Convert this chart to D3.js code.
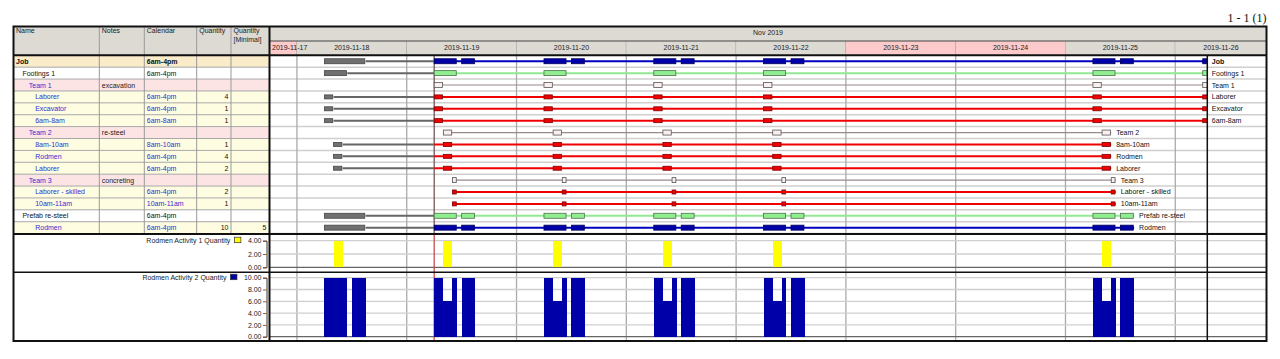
<!DOCTYPE html>
<html><head><meta charset="utf-8">
<script src="https://cdn.jsdelivr.net/npm/d3@7"></script>
<style>
body{margin:0;background:#fff;}
svg{display:block;font-family:"Liberation Sans",Arial,sans-serif;}
</style></head><body>
<svg id="c" width="1280" height="359"></svg>
<script>
// ---------------- data ----------------
const pageLabel = "1 - 1 (1)";
const monthLabel = "Nov 2019";
const days = ["2019-11-17","2019-11-18","2019-11-19","2019-11-20","2019-11-21","2019-11-22","2019-11-23","2019-11-24","2019-11-25","2019-11-26"];
const weekendDays = ["2019-11-17","2019-11-23","2019-11-24"];
const viewStart = ["2019-11-17", 18];
const viewEnd = ["2019-11-26", 7];
const nowMark = ["2019-11-19", 6];

const columnHeads = [["Name"],["Notes"],["Calendar"],["Quantity"],["Quantity","[Minimal]"]];

const rowNames = ["Job","Footings 1","Team 1","Laborer","Excavator","6am-8am","Team 2","8am-10am","Rodmen","Laborer","Team 3","Laborer - skilled","10am-11am","Prefab re-steel","Rodmen"];
const rowIndent = [0,1,2,3,3,3,2,3,3,3,2,3,3,1,3];
const rowNotes = ["","","excavation","","","","re-steel","","","","concreting","","","",""];
const rowCalendar = ["6am-4pm","6am-4pm","","6am-4pm","6am-4pm","6am-8am","","8am-10am","6am-4pm","6am-4pm","","6am-4pm","10am-11am","6am-4pm","6am-4pm"];
const rowQty = [null,null,null,4,1,1,null,1,4,2,null,2,1,null,10];
const rowQtyMin = [null,null,null,null,null,null,null,null,null,null,null,null,null,null,5];
const rowTableStyle = ["job","plain","team","res","res","res","team","res","res","res","team","res","res","plain","res"];
const rowBarStyle = ["blue","green","team","red","red","red","team","red","red","red","team","red","red","green","blue"];

const pastDay = "2019-11-18";
const workDays = ["2019-11-19","2019-11-20","2019-11-21","2019-11-22","2019-11-25","2019-11-26"];
const rowPastShift = [[6,15],[6,11],null,[6,8],[6,8],[6,8],null,[8,10],[8,10],[8,10],null,null,null,[6,15],[6,15]];
const rowShifts = [
  [[6,11],[12,15]], [[6,11]], [[6,8]], [[6,8]], [[6,8]], [[6,8]],
  [[8,10]], [[8,10]], [[8,10]], [[8,10]],
  [[10,11]], [[10,11]], [[10,11]],
  [[6,11],[12,15]], [[6,11],[12,15]]
];
const rowLastDay = ["2019-11-26","2019-11-26","2019-11-26","2019-11-26","2019-11-26","2019-11-26",
  "2019-11-25","2019-11-25","2019-11-25","2019-11-25","2019-11-25","2019-11-25","2019-11-25","2019-11-25","2019-11-25"];

const hist1Name = "Rodmen Activity 1 Quantity";
const hist1Days = ["2019-11-18","2019-11-19","2019-11-20","2019-11-21","2019-11-22","2019-11-25"];
const hist1Steps = [[8,10,4]];
const hist1Ticks = [0,2,4];

const hist2Name = "Rodmen Activity 2 Quantity";
const hist2PastSteps = [[6,11,10],[12,15,10]];
const hist2Days = ["2019-11-19","2019-11-20","2019-11-21","2019-11-22","2019-11-25"];
const hist2Steps = [[6,8,10],[8,10,6],[10,11,10],[12,15,10]];
const hist2Ticks = [0,2,4,6,8,10];

// ---------------- layout ----------------
const L = 13.5, TBR = 269.5, GR = 1207.3, R = 1266.5;
const TOP = 26.5, MONTH_B = 41, HEAD_B = 55.3, ROWS_B = 233.6;
const H1_T = 234, H1_B = 272.3, H2_B = 341;
const colX = [13.5, 99.3, 144.3, 196.7, 231, 269.5];
const FS = 7;
const BLUE_TXT = "#3030d2";

const svg = d3.select("#c");
const parseDay = d3.timeParse("%Y-%m-%d");
const at = (day, h) => new Date(parseDay(day).getTime() + h * 3600000);
const x = d3.scaleTime().domain([at(...viewStart), at(...viewEnd)]).range([TBR, GR]);
const yRow = d3.scaleBand().domain(d3.range(rowNames.length)).range([HEAD_B, ROWS_B]);
const rh = yRow.bandwidth();
const yc = i => yRow(i) + rh / 2;
const nowT = at(...nowMark);

const defs = svg.append("defs");
defs.append("clipPath").attr("id","gclip").append("rect").attr("x",TBR).attr("y",HEAD_B).attr("width",GR-TBR).attr("height",ROWS_B-HEAD_B);
defs.append("clipPath").attr("id","hclip").append("rect").attr("x",TBR).attr("y",H1_T).attr("width",GR-TBR).attr("height",H2_B-H1_T);
defs.append("clipPath").attr("id","headclip").append("rect").attr("x",TBR).attr("y",TOP).attr("width",R-TBR).attr("height",HEAD_B-TOP);

// page label
svg.append("text").attr("x",R).attr("y",21.5).attr("text-anchor","end")
  .style("font-family",'"Liberation Serif","Times New Roman",serif').style("font-size","12px").attr("fill","#111").text(pageLabel);

// ---------- table header ----------
const HEADBG = "#dcdad3";
svg.append("rect").attr("x",L).attr("y",TOP).attr("width",TBR-L).attr("height",HEAD_B-TOP).attr("fill",HEADBG);
columnHeads.forEach((lines,c)=>{
  const t = svg.append("text").attr("x",colX[c]+2.5).attr("y",33).style("font-size",FS+"px").attr("fill","#222");
  lines.forEach((s,k)=>t.append("tspan").attr("x",colX[c]+2.5).attr("dy",k?8.5:0).text(s));
});

// ---------- time header ----------
svg.append("rect").attr("x",TBR).attr("y",TOP).attr("width",R-TBR).attr("height",HEAD_B-TOP).attr("fill",HEADBG);
svg.append("text").attr("x",(TBR+R)/2).attr("y",35).attr("text-anchor","middle").style("font-size",FS+"px").attr("fill","#222").text(monthLabel);
const hg = svg.append("g").attr("clip-path","url(#headclip)");
days.forEach(d=>{
  const a = Math.max(x(at(d,0)), TBR), b = Math.min(x(at(d,24)), R);
  if (b <= a) return;
  hg.append("rect").attr("x",a).attr("y",MONTH_B).attr("width",b-a).attr("height",HEAD_B-MONTH_B)
    .attr("fill", weekendDays.includes(d) ? "#fccaca" : HEADBG);
  if (b < R) hg.append("line").attr("x1",b).attr("x2",b).attr("y1",MONTH_B).attr("y2",HEAD_B).attr("stroke","#999").attr("stroke-width",1);
  const t = svg.append("text").attr("x",(a+b)/2).attr("y",50.3).attr("text-anchor","middle").style("font-size",FS+"px").attr("fill","#222").text(d);
  const w = t.node().getComputedTextLength();
  if (w > b - a - 4) t.attr("text-anchor","start").attr("x", a + 2.5);
});

// ---------- table rows ----------
const tableBg = {job:"#faebc9", plain:"#ffffff", team:"#fde4e4", res:"#fefde1"};
rowNames.forEach((name,i)=>{
  const st = rowTableStyle[i];
  svg.append("rect").attr("x",L).attr("y",yRow(i)).attr("width",TBR-L).attr("height",rh).attr("fill",tableBg[st]);
  const base = yc(i) + 2.5;
  const nameColor = (st==="team"||st==="res") ? BLUE_TXT : "#111";
  const bold = st==="job" ? "bold" : "normal";
  svg.append("text").attr("x", L + 2.5 + rowIndent[i]*6.4).attr("y",base).style("font-size",FS+"px").style("font-weight",bold).attr("fill",nameColor).text(name);
  if (rowNotes[i]) svg.append("text").attr("x",colX[1]+2.5).attr("y",base).style("font-size",FS+"px").attr("fill","#222").text(rowNotes[i]);
  if (rowCalendar[i]) svg.append("text").attr("x",colX[2]+2.5).attr("y",base).style("font-size",FS+"px").style("font-weight",bold)
      .attr("fill", st==="res" ? BLUE_TXT : "#111").text(rowCalendar[i]);
  if (rowQty[i]!=null) svg.append("text").attr("x",colX[4]-2.5).attr("y",base).attr("text-anchor","end").style("font-size",FS+"px").attr("fill","#111").text(rowQty[i]);
  if (rowQtyMin[i]!=null) svg.append("text").attr("x",colX[5]-3).attr("y",base).attr("text-anchor","end").style("font-size",FS+"px").attr("fill","#111").text(rowQtyMin[i]);
});
// table grid
d3.range(rowNames.length+1).forEach(i=>{
  const y = HEAD_B + i*rh;
  svg.append("line").attr("x1",L).attr("x2",TBR).attr("y1",y).attr("y2",y).attr("stroke","#a8a8a8").attr("stroke-width",1);
});
colX.slice(1,5).forEach(cx=>{
  svg.append("line").attr("x1",cx).attr("x2",cx).attr("y1",TOP).attr("y2",ROWS_B).attr("stroke","#999").attr("stroke-width",1);
});

// ---------- gantt grid ----------
d3.range(rowNames.length+1).forEach(i=>{
  const y = HEAD_B + i*rh;
  svg.append("line").attr("x1",TBR).attr("x2",R).attr("y1",y).attr("y2",y).attr("stroke","#cfcfcf").attr("stroke-width",1.5);
});
days.slice(1).forEach(d=>{
  const xx = x(at(d,0));
  if (xx > TBR && xx < GR) svg.append("line").attr("x1",xx).attr("x2",xx).attr("y1",HEAD_B).attr("y2",H2_B).attr("stroke","#aaa").attr("stroke-width",1.3);
});

// ---------- histogram grids ----------
const y1 = d3.scaleLinear().domain([0,4]).range([267.3, 240.7]);
const y2 = d3.scaleLinear().domain([0,10]).range([336.7, 277.7]);
hist1Ticks.forEach(v=>svg.append("line").attr("x1",TBR).attr("x2",R).attr("y1",y1(v)).attr("y2",y1(v)).attr("stroke", v===0?"#666":"#cfcfcf").attr("stroke-width",1.3));
hist2Ticks.forEach(v=>svg.append("line").attr("x1",TBR).attr("x2",R).attr("y1",y2(v)).attr("y2",y2(v)).attr("stroke", v===0?"#666":"#cfcfcf").attr("stroke-width",1.3));

// now line
svg.append("line").attr("x1",x(nowT)).attr("x2",x(nowT)).attr("y1",HEAD_B).attr("y2",H1_T).attr("stroke","#6a4a4a").attr("stroke-width",1.2);
svg.append("line").attr("x1",x(nowT)).attr("x2",x(nowT)).attr("y1",H1_T).attr("y2",H2_B).attr("stroke","#c04040").attr("stroke-width",1.2);

// ---------- gantt bars ----------
const barStyle = {
  blue:{fill:"#0000a8",stroke:"#00005a",h:5,line:"#0000c0",lw:2},
  green:{fill:"#90ee90",stroke:"#4d704d",h:5,line:"#90e890",lw:2},
  red:{fill:"#f00000",stroke:"#7a0000",h:4,line:"#f00000",lw:2},
  team:{fill:"#fbeeee",stroke:"#555",h:5,line:"#9a8a8a",lw:1.2}
};
const past = {fill:"#707070",stroke:"#474747",line:"#666",lw:2};
const gg = svg.append("g").attr("clip-path","url(#gclip)");
const labels = svg.append("g");
rowNames.forEach((name,i)=>{
  const st = barStyle[rowBarStyle[i]];
  const cy = yc(i);
  const p = rowPastShift[i] ? {t0:at(pastDay,rowPastShift[i][0]), t1:at(pastDay,rowPastShift[i][1])} : null;
  const segs = [];
  workDays.filter(d=>d<=rowLastDay[i]).forEach(d=>rowShifts[i].forEach(s=>segs.push({t0:at(d,s[0]),t1:at(d,s[1])})));
  const lastT = segs[segs.length-1].t1;
  if (p) {
    gg.append("line").attr("x1",x(p.t1)).attr("x2",x(nowT)).attr("y1",cy).attr("y2",cy).attr("stroke",past.line).attr("stroke-width",past.lw);
  }
  const lineStart = p ? nowT : segs[0].t0;
  gg.append("line").attr("x1",x(lineStart)).attr("x2",x(lastT)).attr("y1",cy).attr("y2",cy).attr("stroke",st.line).attr("stroke-width",st.lw);
  if (p) {
    gg.append("rect").attr("x",x(p.t0)).attr("y",cy-st.h/2).attr("width",x(p.t1)-x(p.t0)-0.8).attr("height",st.h)
      .attr("fill",past.fill).attr("stroke",past.stroke).attr("stroke-width",0.8);
  }
  gg.selectAll(null).data(segs).join("rect")
    .attr("x",s=>x(s.t0)).attr("y",cy-st.h/2).attr("width",s=>Math.max(1.5,x(s.t1)-x(s.t0)-0.8)).attr("height",st.h)
    .attr("fill",st.fill).attr("stroke",st.stroke).attr("stroke-width",0.8);
  const bold = rowTableStyle[i]==="job" ? "bold" : "normal";
  if (x(lastT) < GR - 4) {
    labels.append("text").attr("x",x(lastT)+5).attr("y",cy+2.5).style("font-size",FS+"px").attr("fill","#111").text(name);
  } else {
    labels.append("text").attr("x",GR+4.5).attr("y",cy+2.5).style("font-size",FS+"px").style("font-weight",bold).attr("fill","#111").text(name);
  }
});

// ---------- histograms ----------
const hgp = svg.append("g").attr("clip-path","url(#hclip)");
const h1 = [];
hist1Days.forEach(d=>hist1Steps.forEach(s=>h1.push({t0:at(d,s[0]),t1:at(d,s[1]),v:s[2]})));
hgp.selectAll(null).data(h1).join("rect").attr("shape-rendering","crispEdges")
  .attr("x",s=>x(s.t0)).attr("width",s=>x(s.t1)-x(s.t0)).attr("y",s=>y1(s.v)).attr("height",s=>y1(0)-y1(s.v)).attr("fill","#ffff00");
const h2 = [];
hist2PastSteps.forEach(s=>h2.push({t0:at(pastDay,s[0]),t1:at(pastDay,s[1]),v:s[2]}));
hist2Days.forEach(d=>hist2Steps.forEach(s=>h2.push({t0:at(d,s[0]),t1:at(d,s[1]),v:s[2]})));
hgp.selectAll(null).data(h2).join("rect").attr("shape-rendering","crispEdges")
  .attr("x",s=>x(s.t0)).attr("width",s=>x(s.t1)-x(s.t0)).attr("y",s=>y2(s.v)).attr("height",s=>y2(0)-y2(s.v)).attr("fill","#0000a8");

// axes + legends
function axisBlock(scale, ticks, name, color){
  const ax = svg.append("g").attr("transform","translate(266.5,0)")
    .call(d3.axisLeft(scale).tickValues(ticks).tickFormat(d3.format(".2f")).tickSize(3.5).tickPadding(1.5));
  ax.selectAll("text").style("font-size",FS+"px").style("font-family",'"Liberation Sans",Arial,sans-serif').attr("fill","#222");
  ax.selectAll(".tick line").attr("stroke","#a0522d");
  ax.select(".domain").attr("stroke","#333");
  let minX = 1e9;
  ax.selectAll("text").each(function(){ const b=this.getBBox(); minX=Math.min(minX,266.5+b.x); });
  const top = scale.range()[1];
  const sw = minX - 7;
  svg.append("rect").attr("x",sw-6.5).attr("y",top-3.5).attr("width",6.5).attr("height",5.5).attr("fill",color).attr("stroke","#333").attr("stroke-width",0.7);
  svg.append("text").attr("x",sw-10.5).attr("y",top+1.8).attr("text-anchor","end").style("font-size",FS+"px").attr("fill","#222").text(name);
}
axisBlock(y1, hist1Ticks, hist1Name, "#ffff00");
axisBlock(y2, hist2Ticks, hist2Name, "#0000a8");

// ---------- borders ----------
const blk = (x1,y1_,x2,y2_,w,c="#111")=>svg.append("line").attr("x1",x1).attr("y1",y1_).attr("x2",x2).attr("y2",y2_).attr("stroke",c).attr("stroke-width",w);
blk(TBR,MONTH_B,R,MONTH_B,1,"#444");
blk(L,HEAD_B,R,HEAD_B,2);
blk(L,H1_T,R,H1_T,2);
blk(L,H1_B,R,H1_B,1.5);
blk(GR,HEAD_B,GR,H2_B,1.5);
blk(TBR,TOP,TBR,H2_B,2);
svg.append("rect").attr("x",L).attr("y",TOP).attr("width",R-L).attr("height",H2_B-TOP).attr("fill","none").attr("stroke","#111").attr("stroke-width",2);
</script>
</body></html>
